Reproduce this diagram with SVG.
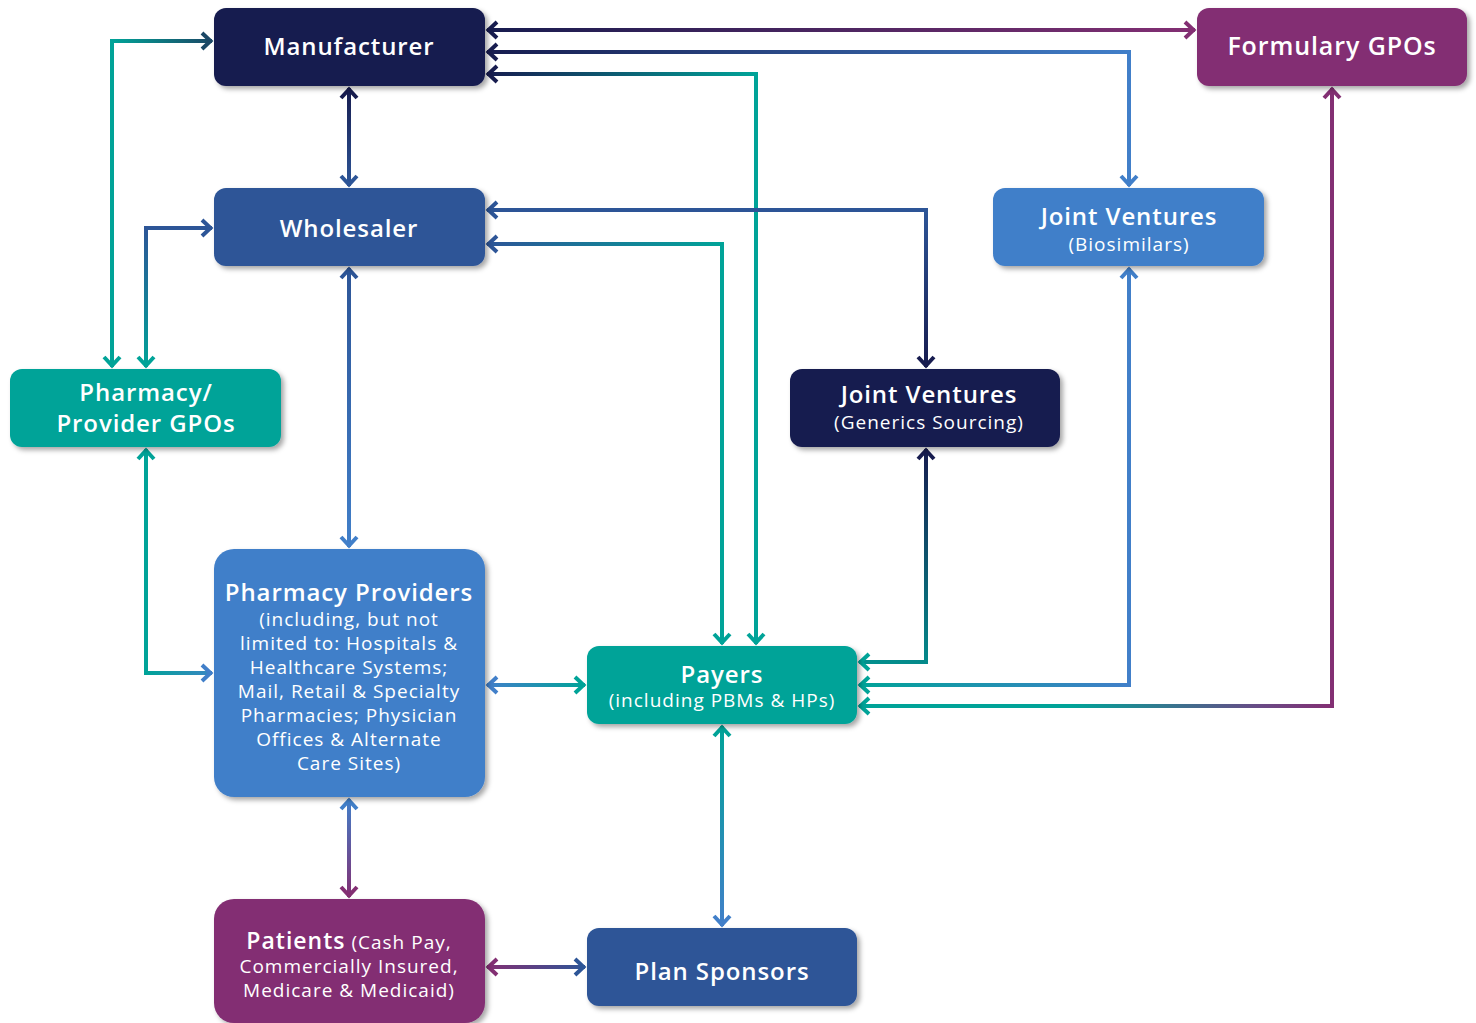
<svg xmlns="http://www.w3.org/2000/svg" width="1476" height="1023" viewBox="0 0 1476 1023">
<style>
.t{font-family:"Open Sans","Liberation Sans",sans-serif;font-weight:600;font-size:24px;fill:#fff;text-anchor:middle;letter-spacing:0.9px}
.s{font-family:"Open Sans","Liberation Sans",sans-serif;font-weight:400;font-size:19px;fill:#fff;text-anchor:middle;letter-spacing:1px}
.c{fill:none;stroke-width:4}
.navy{fill:#171c4f}.dblue{fill:#2d5597}.blue{fill:#417fc9}.teal{fill:#00a398}.purple{fill:#832f73}
</style>
<defs>
<filter id="sh" x="-10%" y="-10%" width="125%" height="130%"><feDropShadow dx="3" dy="3" stdDeviation="2.5" flood-color="#000" flood-opacity="0.35"/></filter>
<marker id="mNavy" markerUnits="userSpaceOnUse" markerWidth="26" markerHeight="26" viewBox="-15 -13 26 26" refX="0" refY="0" orient="auto-start-reverse"><path d="M-10,-8 L-1.5,0 L-10,8" fill="none" stroke="#171c4f" stroke-width="4"/></marker>
<marker id="mDblue" markerUnits="userSpaceOnUse" markerWidth="26" markerHeight="26" viewBox="-15 -13 26 26" refX="0" refY="0" orient="auto-start-reverse"><path d="M-10,-8 L-1.5,0 L-10,8" fill="none" stroke="#2d5597" stroke-width="4"/></marker>
<marker id="mBlue" markerUnits="userSpaceOnUse" markerWidth="26" markerHeight="26" viewBox="-15 -13 26 26" refX="0" refY="0" orient="auto-start-reverse"><path d="M-10,-8 L-1.5,0 L-10,8" fill="none" stroke="#417fc9" stroke-width="4"/></marker>
<marker id="mTeal" markerUnits="userSpaceOnUse" markerWidth="26" markerHeight="26" viewBox="-15 -13 26 26" refX="0" refY="0" orient="auto-start-reverse"><path d="M-10,-8 L-1.5,0 L-10,8" fill="none" stroke="#00a398" stroke-width="4"/></marker>
<marker id="mPurple" markerUnits="userSpaceOnUse" markerWidth="26" markerHeight="26" viewBox="-15 -13 26 26" refX="0" refY="0" orient="auto-start-reverse"><path d="M-10,-8 L-1.5,0 L-10,8" fill="none" stroke="#832f73" stroke-width="4"/></marker>
<marker id="mDteal" markerUnits="userSpaceOnUse" markerWidth="26" markerHeight="26" viewBox="-15 -13 26 26" refX="0" refY="0" orient="auto-start-reverse"><path d="M-10,-8 L-1.5,0 L-10,8" fill="none" stroke="#1b4866" stroke-width="4"/></marker>
<linearGradient id="g1" gradientUnits="userSpaceOnUse" x1="487" y1="0" x2="1195" y2="0"><stop offset="0" stop-color="#171c4f"/><stop offset="1" stop-color="#832f73"/></linearGradient>
<linearGradient id="g2" gradientUnits="userSpaceOnUse" x1="487" y1="0" x2="1129" y2="0"><stop offset="0" stop-color="#171c4f"/><stop offset="1" stop-color="#417fc9"/></linearGradient>
<linearGradient id="g3" gradientUnits="userSpaceOnUse" x1="487" y1="0" x2="756" y2="0"><stop offset="0" stop-color="#171c4f"/><stop offset="1" stop-color="#00a398"/></linearGradient>
<linearGradient id="g4" gradientUnits="userSpaceOnUse" x1="0" y1="88" x2="0" y2="186"><stop offset="0" stop-color="#171c4f"/><stop offset="1" stop-color="#2d5597"/></linearGradient>
<linearGradient id="g5" gradientUnits="userSpaceOnUse" x1="112" y1="0" x2="212" y2="0"><stop offset="0" stop-color="#00a398"/><stop offset="1" stop-color="#1b4866"/></linearGradient>
<linearGradient id="g6" gradientUnits="userSpaceOnUse" x1="0" y1="228" x2="0" y2="367"><stop offset="0" stop-color="#2d5597"/><stop offset="1" stop-color="#00a398"/></linearGradient>
<linearGradient id="g7" gradientUnits="userSpaceOnUse" x1="0" y1="210" x2="0" y2="367"><stop offset="0" stop-color="#2d5597"/><stop offset="1" stop-color="#171c4f"/></linearGradient>
<linearGradient id="g8" gradientUnits="userSpaceOnUse" x1="487" y1="0" x2="722" y2="0"><stop offset="0" stop-color="#2d5597"/><stop offset="1" stop-color="#00a398"/></linearGradient>
<linearGradient id="g9" gradientUnits="userSpaceOnUse" x1="0" y1="268" x2="0" y2="547"><stop offset="0" stop-color="#2d5597"/><stop offset="1" stop-color="#417fc9"/></linearGradient>
<linearGradient id="g10" gradientUnits="userSpaceOnUse" x1="146" y1="0" x2="212" y2="0"><stop offset="0" stop-color="#00a398"/><stop offset="1" stop-color="#3a86c4"/></linearGradient>
<linearGradient id="g11" gradientUnits="userSpaceOnUse" x1="487" y1="0" x2="585" y2="0"><stop offset="0" stop-color="#417fc9"/><stop offset="1" stop-color="#00a398"/></linearGradient>
<linearGradient id="g12" gradientUnits="userSpaceOnUse" x1="926" y1="449" x2="870" y2="700"><stop offset="0" stop-color="#171c4f"/><stop offset="1" stop-color="#00a398"/></linearGradient>
<linearGradient id="g13" gradientUnits="userSpaceOnUse" x1="1129" y1="0" x2="859" y2="0"><stop offset="0" stop-color="#417fc9"/><stop offset="1" stop-color="#00a398"/></linearGradient>
<linearGradient id="g14" gradientUnits="userSpaceOnUse" x1="1332" y1="0" x2="859" y2="0"><stop offset="0" stop-color="#832f73"/><stop offset="0.15" stop-color="#6a4a86"/><stop offset="0.55" stop-color="#00a398"/><stop offset="1" stop-color="#00a398"/></linearGradient>
<linearGradient id="g15" gradientUnits="userSpaceOnUse" x1="0" y1="726" x2="0" y2="926"><stop offset="0" stop-color="#00a398"/><stop offset="1" stop-color="#417fc9"/></linearGradient>
<linearGradient id="g16" gradientUnits="userSpaceOnUse" x1="0" y1="799" x2="0" y2="897"><stop offset="0" stop-color="#417fc9"/><stop offset="1" stop-color="#832f73"/></linearGradient>
<linearGradient id="g17" gradientUnits="userSpaceOnUse" x1="487" y1="0" x2="585" y2="0"><stop offset="0" stop-color="#832f73"/><stop offset="1" stop-color="#2d5597"/></linearGradient>
</defs>
<rect width="1476" height="1023" fill="#fff"/>
<g id="connectors">
<path class="c" d="M487,30 H1195" stroke="url(#g1)" marker-start="url(#mNavy)" marker-end="url(#mPurple)"/>
<path class="c" d="M487,52 H1129 V186" stroke="url(#g2)" marker-start="url(#mNavy)" marker-end="url(#mBlue)"/>
<path class="c" d="M487,74 H756 V644" stroke="url(#g3)" marker-start="url(#mNavy)" marker-end="url(#mTeal)"/>
<path class="c" d="M349,88 V186" stroke="url(#g4)" marker-start="url(#mNavy)" marker-end="url(#mDblue)"/>
<path class="c" d="M212,41 H112 V367" stroke="url(#g5)" marker-start="url(#mDteal)" marker-end="url(#mTeal)"/>
<path class="c" d="M212,228 H146 V367" stroke="url(#g6)" marker-start="url(#mDblue)" marker-end="url(#mTeal)"/>
<path class="c" d="M487,210 H926 V367" stroke="url(#g7)" marker-start="url(#mDblue)" marker-end="url(#mNavy)"/>
<path class="c" d="M487,244 H722 V644" stroke="url(#g8)" marker-start="url(#mDblue)" marker-end="url(#mTeal)"/>
<path class="c" d="M349,268 V547" stroke="url(#g9)" marker-start="url(#mDblue)" marker-end="url(#mBlue)"/>
<path class="c" d="M146,449 V673 H212" stroke="url(#g10)" marker-start="url(#mTeal)" marker-end="url(#mBlue)"/>
<path class="c" d="M487,685 H585" stroke="url(#g11)" marker-start="url(#mBlue)" marker-end="url(#mTeal)"/>
<path class="c" d="M926,449 V662 H859" stroke="url(#g12)" marker-start="url(#mNavy)" marker-end="url(#mTeal)"/>
<path class="c" d="M1129,268 V685 H859" stroke="url(#g13)" marker-start="url(#mBlue)" marker-end="url(#mTeal)"/>
<path class="c" d="M1332,88 V706 H859" stroke="url(#g14)" marker-start="url(#mPurple)" marker-end="url(#mTeal)"/>
<path class="c" d="M722,726 V926" stroke="url(#g15)" marker-start="url(#mTeal)" marker-end="url(#mBlue)"/>
<path class="c" d="M349,799 V897" stroke="url(#g16)" marker-start="url(#mBlue)" marker-end="url(#mPurple)"/>
<path class="c" d="M487,967 H585" stroke="url(#g17)" marker-start="url(#mPurple)" marker-end="url(#mDblue)"/>
</g>
<g id="manufacturer"><rect class="navy" x="214" y="8" width="271" height="78" rx="12" filter="url(#sh)"/><text class="t" x="349" y="55">Manufacturer</text></g>
<g id="formulary-gpos"><rect class="purple" x="1197" y="8" width="270" height="78" rx="12" filter="url(#sh)"/><text class="t" x="1332" y="55" style="font-size:25px">Formulary GPOs</text></g>
<g id="wholesaler"><rect class="dblue" x="214" y="188" width="271" height="78" rx="12" filter="url(#sh)"/><text class="t" x="349" y="237">Wholesaler</text></g>
<g id="jv-biosimilars"><rect class="blue" x="993" y="188" width="271" height="78" rx="12" filter="url(#sh)"/><text class="t" x="1129" y="225">Joint Ventures</text><text class="s" x="1129" y="251">(Biosimilars)</text></g>
<g id="pharmacy-provider-gpos"><rect class="teal" x="10" y="369" width="271" height="78" rx="12" filter="url(#sh)"/><text class="t" x="146" y="401">Pharmacy/</text><text class="t" x="146" y="432">Provider GPOs</text></g>
<g id="jv-generics"><rect class="navy" x="790" y="369" width="270" height="78" rx="12" filter="url(#sh)"/><text class="t" x="929" y="403">Joint Ventures</text><text class="s" x="929" y="429">(Generics Sourcing)</text></g>
<g id="pharmacy-providers"><rect class="blue" x="214" y="549" width="271" height="248" rx="20" filter="url(#sh)"/>
<text class="t" x="349" y="601">Pharmacy Providers</text>
<text class="s" x="349" y="626">(including, but not</text>
<text class="s" x="349" y="650">limited to: Hospitals &amp;</text>
<text class="s" x="349" y="674">Healthcare Systems;</text>
<text class="s" x="349" y="698">Mail, Retail &amp; Specialty</text>
<text class="s" x="349" y="722">Pharmacies; Physician</text>
<text class="s" x="349" y="746">Offices &amp; Alternate</text>
<text class="s" x="349" y="770">Care Sites)</text></g>
<g id="payers"><rect class="teal" x="587" y="646" width="270" height="78" rx="12" filter="url(#sh)"/><text class="t" x="722" y="683">Payers</text><text class="s" x="722" y="707">(including PBMs &amp; HPs)</text></g>
<g id="patients"><rect class="purple" x="214" y="899" width="271" height="124" rx="20" filter="url(#sh)"/>
<text class="s" x="349" y="949"><tspan style="font-weight:600;font-size:23px">Patients</tspan> (Cash Pay,</text>
<text class="s" x="349" y="973">Commercially Insured,</text>
<text class="s" x="349" y="997">Medicare &amp; Medicaid)</text></g>
<g id="plan-sponsors"><rect class="dblue" x="587" y="928" width="270" height="78" rx="12" filter="url(#sh)"/><text class="t" x="722" y="980">Plan Sponsors</text></g>
</svg>
